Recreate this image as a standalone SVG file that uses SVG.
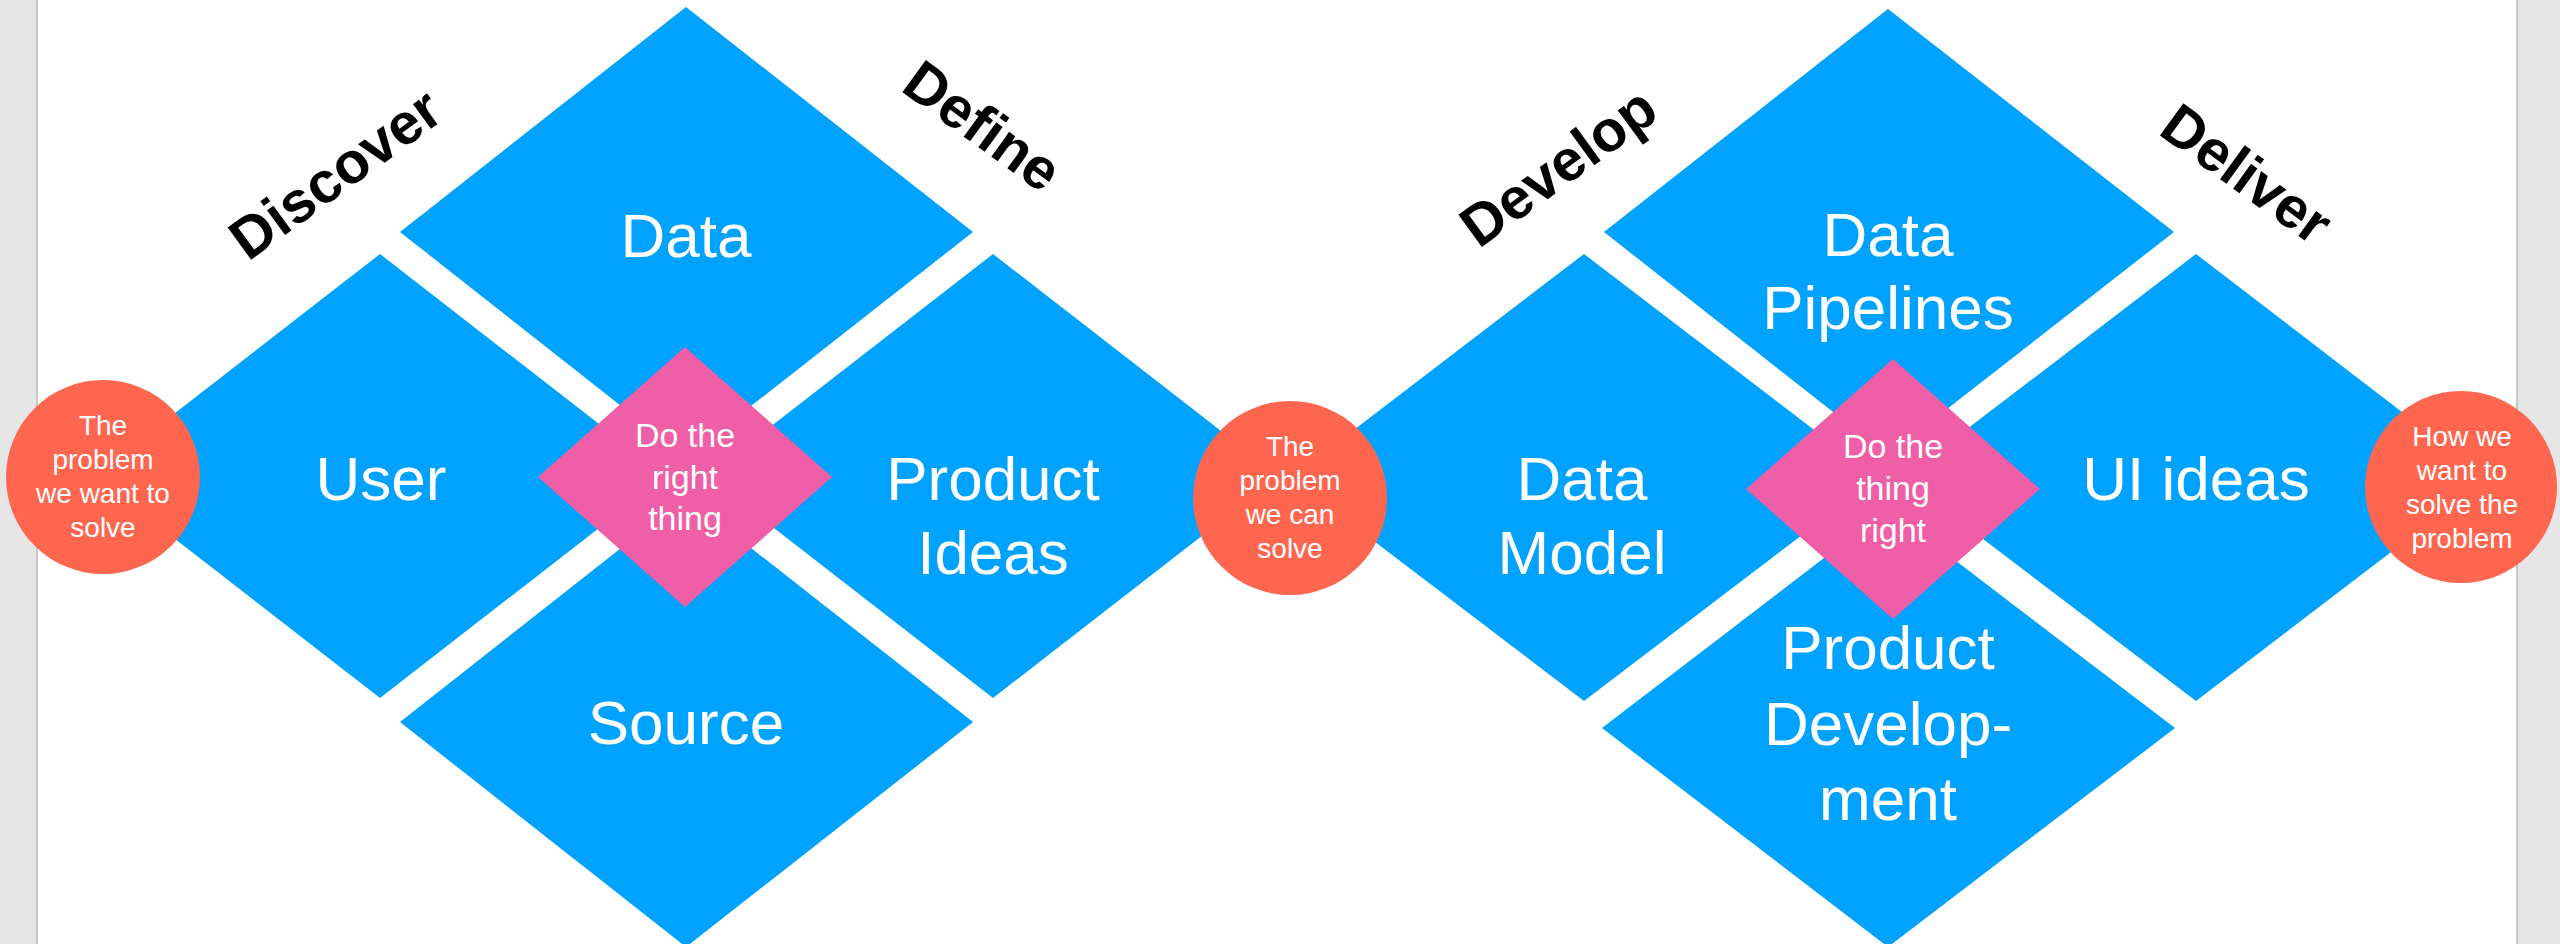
<svg xmlns="http://www.w3.org/2000/svg" width="2560" height="944" viewBox="0 0 2560 944">
<style>
.blue{fill:#00A2FF}
.pink{fill:#EF5FA7}
.coral{fill:#FF6650}
.big{font-family:"Liberation Sans",Arial,sans-serif;font-size:62px;fill:#fff;text-anchor:middle}
.mid{font-family:"Liberation Sans",Arial,sans-serif;font-size:34px;fill:#fff;text-anchor:middle}
.sm{font-family:"Liberation Sans",Arial,sans-serif;font-size:28px;fill:#fff;text-anchor:middle}
.phase{font-family:"Liberation Sans",Arial,sans-serif;font-size:58px;font-weight:bold;fill:#000;text-anchor:middle}
</style>
<rect x="0" y="0" width="2560" height="944" fill="#fff"/>
<g id="margins">
<rect x="0" y="0" width="37" height="944" fill="#E6E6E6"/>
<rect x="36" y="0" width="2" height="944" fill="#C8C8C8"/>
<rect x="2517" y="0" width="43" height="944" fill="#E6E6E6"/>
<rect x="2516" y="0" width="2" height="944" fill="#C8C8C8"/>
</g>
<g id="connectors"></g>
<g id="node-data">
<polygon class="blue" points="686,7 973,232 686,457 400,232"/>
<text class="big" x="686" y="257">Data</text>
</g>
<g id="node-user">
<polygon class="blue" points="380,254 666,476 380,698 94,476"/>
<text class="big" x="381" y="500">User</text>
</g>
<g id="node-product-ideas">
<polygon class="blue" points="993,254 1279,476 993,698 707,476"/>
<text class="big" x="993" y="500">Product</text>
<text class="big" x="993" y="574">Ideas</text>
</g>
<g id="node-source">
<polygon class="blue" points="686,497 973,722 686,947 400,722"/>
<text class="big" x="686" y="744">Source</text>
</g>
<g id="node-right-thing">
<polygon class="pink" points="685,347 832,477 685,607 538,477"/>
<text class="mid" x="685" y="447">Do the</text>
<text class="mid" x="685" y="489">right</text>
<text class="mid" x="685" y="530">thing</text>
</g>
<g id="node-data-pipelines">
<polygon class="blue" points="1888,9 2174,232 1888,455 1604,232"/>
<text class="big" x="1888" y="256">Data</text>
<text class="big" x="1888" y="329">Pipelines</text>
</g>
<g id="node-data-model">
<polygon class="blue" points="1584,254 1877,478 1584,701 1291,478"/>
<text class="big" x="1582" y="500">Data</text>
<text class="big" x="1582" y="574">Model</text>
</g>
<g id="node-ui-ideas">
<polygon class="blue" points="2196,254 2488,478 2196,701 1903,478"/>
<text class="big" x="2196" y="500">UI ideas</text>
</g>
<g id="node-product-development">
<polygon class="blue" points="1888,509 2175,728 1888,947 1602,728"/>
<text class="big" x="1888" y="669">Product</text>
<text class="big" x="1888" y="745">Develop-</text>
<text class="big" x="1888" y="820">ment</text>
</g>
<g id="node-thing-right">
<polygon class="pink" points="1893,359 2040,489 1893,619 1746,489"/>
<text class="mid" x="1893" y="458">Do the</text>
<text class="mid" x="1893" y="500">thing</text>
<text class="mid" x="1893" y="542">right</text>
</g>
<g id="node-problem-want">
<circle class="coral" cx="103" cy="477" r="97"/>
<text class="sm" x="103" y="435">The</text>
<text class="sm" x="103" y="469">problem</text>
<text class="sm" x="103" y="503">we want to</text>
<text class="sm" x="103" y="537">solve</text>
</g>
<g id="node-problem-can">
<circle class="coral" cx="1290" cy="498" r="97"/>
<text class="sm" x="1290" y="456">The</text>
<text class="sm" x="1290" y="490">problem</text>
<text class="sm" x="1290" y="524">we can</text>
<text class="sm" x="1290" y="558">solve</text>
</g>
<g id="node-how-solve">
<circle class="coral" cx="2461" cy="487" r="96"/>
<text class="sm" x="2462" y="446">How we</text>
<text class="sm" x="2462" y="480">want to</text>
<text class="sm" x="2462" y="514">solve the</text>
<text class="sm" x="2462" y="548">problem</text>
</g>
<g id="phase-labels">
<text class="phase" transform="translate(347,190) rotate(-36)">Discover</text>
<text class="phase" transform="translate(971,142) rotate(36)">Define</text>
<text class="phase" transform="translate(1570,183) rotate(-36)">Develop</text>
<text class="phase" transform="translate(2235,190) rotate(36)">Deliver</text>
</g>
</svg>
